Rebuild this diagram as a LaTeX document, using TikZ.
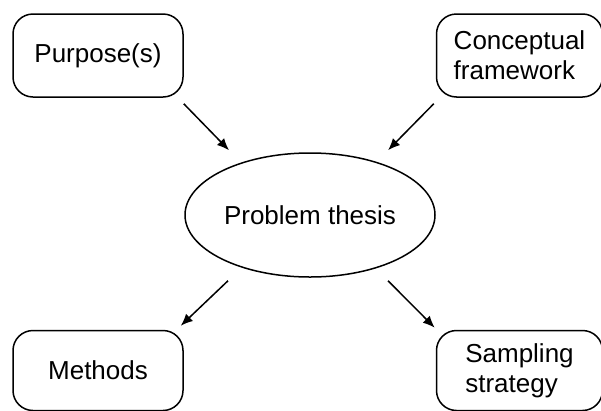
\documentclass[tikz,border=0pt]{standalone}
\usepackage{fontspec}
\setmainfont{Liberation Sans}
\usetikzlibrary{
arrows.meta,
positioning,
shapes.geometric
}

\begin{document}
\begin{tikzpicture}[
x=1pt, y=1pt,
node distance=252pt,
box/.style={
rectangle,
rounded corners=20pt,
draw=black,
line width=1.5pt,
minimum width=170pt,
minimum height=83pt,
align=left,
font=\fontsize{26}{30}\selectfont
},
oval/.style={
ellipse,
draw=black,
line width=1.5pt,
minimum width=250pt,
minimum height=124pt,
inner sep=0pt,
font=\fontsize{26}{30}\selectfont
},
arrow/.style={-{Latex[length=12pt,width=10pt]},line width=1.5pt}
]
\useasboundingbox (0,0) rectangle (601,-410);

\node[oval] (thesis) at (310,-215) {Problem thesis};
\node[box] (purpose) at (98,-55.5) {Purpose(s)};
\node[box, minimum width=166pt, right=of purpose] (framework) {Conceptual\\framework};
\node[box, minimum height=80pt, below=232pt of purpose] (methods) {Methods};
\node[box, minimum width=166pt, minimum height=80pt, right=of methods] (sampling) {Sampling\\strategy};

\draw[arrow] ([yshift=-6pt]purpose.south east) -- ([xshift=-81pt,yshift=2pt]thesis.north);
\draw[arrow] ([xshift=-2pt,yshift=-6pt]framework.south west) -- ([xshift=78pt,yshift=2pt]thesis.north);
\draw[arrow] ([xshift=-82pt,yshift=-3pt]thesis.south) -- ([xshift=-3pt,yshift=4pt]methods.north east);
\draw[arrow] ([xshift=78pt,yshift=-3pt]thesis.south) -- ([xshift=-1pt,yshift=2pt]sampling.north west);

\end{tikzpicture}
\end{document}
